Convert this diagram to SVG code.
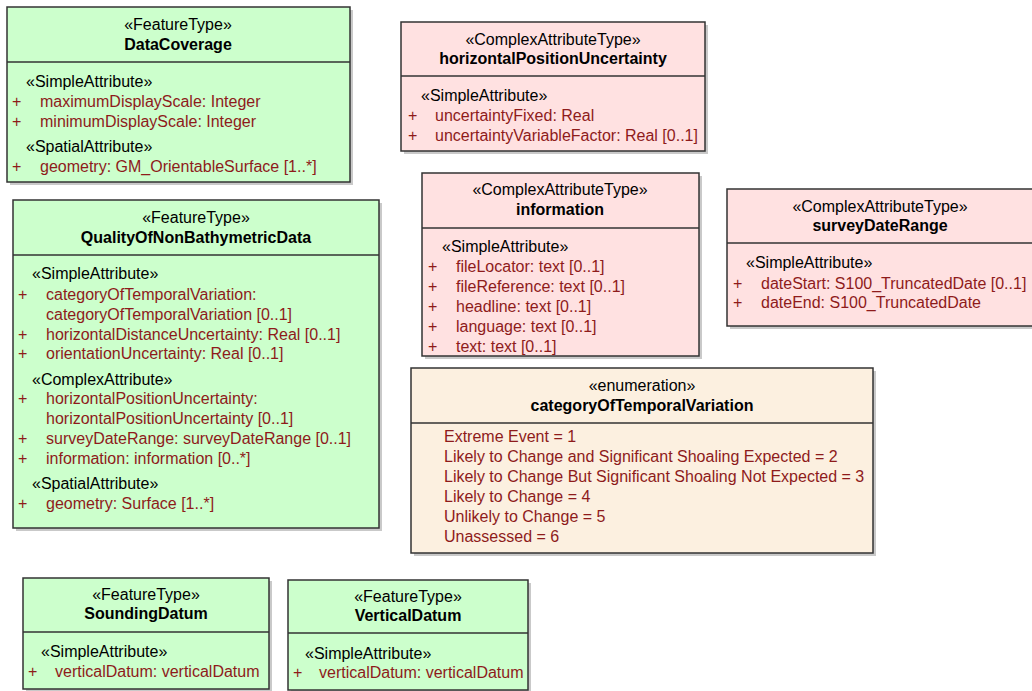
<svg xmlns="http://www.w3.org/2000/svg" width="1032" height="691" viewBox="0 0 1032 691">
<style>
text{font-family:"Liberation Sans",Arial,sans-serif;font-size:16px}
.sh{fill:#c9c9c9}
.g{fill:#ccffcc}
.p{fill:#ffe1e1}
.e{fill:#fcf0e0}
.fr{stroke:#333;stroke-width:1.5}
.dv{stroke:#333;stroke-width:1.5}
.st{fill:#000;text-anchor:middle}
.nm{fill:#000;text-anchor:middle;font-weight:bold}
.sa{fill:#000}
.at{fill:#8e1b1b}
</style>
<rect width="1032" height="691" fill="#fff"/>
<g id="connectors"/>
<g id="DataCoverage">
<rect class="sh" x="10" y="10" width="343" height="175"/>
<rect class="g fr" x="7" y="7" width="343" height="175"/>
<line class="dv" x1="7" y1="62" x2="350" y2="62"/>
<text class="st" x="178" y="30">«FeatureType»</text>
<text class="nm" x="178" y="50">DataCoverage</text>
<text class="sa" x="26" y="87">«SimpleAttribute»</text>
<text class="at" x="12" y="107">+</text><text class="at" x="40" y="107">maximumDisplayScale: Integer</text>
<text class="at" x="12" y="127">+</text><text class="at" x="40" y="127">minimumDisplayScale: Integer</text>
<text class="sa" x="26" y="152">«SpatialAttribute»</text>
<text class="at" x="12" y="172">+</text><text class="at" x="40" y="172">geometry: GM_OrientableSurface [1..*]</text>
</g>
<g id="horizontalPositionUncertainty">
<rect class="sh" x="404" y="25" width="304" height="129"/>
<rect class="p fr" x="401" y="22" width="304" height="129"/>
<line class="dv" x1="401" y1="76" x2="705" y2="76"/>
<text class="st" x="553" y="45">«ComplexAttributeType»</text>
<text class="nm" x="553" y="64">horizontalPositionUncertainty</text>
<text class="sa" x="421" y="101">«SimpleAttribute»</text>
<text class="at" x="408" y="121">+</text><text class="at" x="435" y="121">uncertaintyFixed: Real</text>
<text class="at" x="408" y="141">+</text><text class="at" x="435" y="141">uncertaintyVariableFactor: Real [0..1]</text>
</g>
<g id="QualityOfNonBathymetricData">
<rect class="sh" x="16" y="203" width="366" height="328"/>
<rect class="g fr" x="13" y="200" width="366" height="328"/>
<line class="dv" x1="13" y1="255" x2="379" y2="255"/>
<text class="st" x="196" y="223">«FeatureType»</text>
<text class="nm" x="196" y="243">QualityOfNonBathymetricData</text>
<text class="sa" x="32" y="279">«SimpleAttribute»</text>
<text class="at" x="18" y="300">+</text><text class="at" x="46" y="300">categoryOfTemporalVariation:</text>
<text class="at" x="46" y="320">categoryOfTemporalVariation [0..1]</text>
<text class="at" x="18" y="340">+</text><text class="at" x="46" y="340">horizontalDistanceUncertainty: Real [0..1]</text>
<text class="at" x="18" y="359">+</text><text class="at" x="46" y="359">orientationUncertainty: Real [0..1]</text>
<text class="sa" x="32" y="385">«ComplexAttribute»</text>
<text class="at" x="18" y="404">+</text><text class="at" x="46" y="404">horizontalPositionUncertainty:</text>
<text class="at" x="46" y="424">horizontalPositionUncertainty [0..1]</text>
<text class="at" x="18" y="444">+</text><text class="at" x="46" y="444">surveyDateRange: surveyDateRange [0..1]</text>
<text class="at" x="18" y="464">+</text><text class="at" x="46" y="464">information: information [0..*]</text>
<text class="sa" x="32" y="489">«SpatialAttribute»</text>
<text class="at" x="18" y="509">+</text><text class="at" x="46" y="509">geometry: Surface [1..*]</text>
</g>
<g id="information">
<rect class="sh" x="425" y="176" width="277" height="183"/>
<rect class="p fr" x="422" y="173" width="277" height="183"/>
<line class="dv" x1="422" y1="228" x2="699" y2="228"/>
<text class="st" x="560" y="195">«ComplexAttributeType»</text>
<text class="nm" x="560" y="215">information</text>
<text class="sa" x="442" y="252">«SimpleAttribute»</text>
<text class="at" x="428" y="272">+</text><text class="at" x="456" y="272">fileLocator: text [0..1]</text>
<text class="at" x="428" y="292">+</text><text class="at" x="456" y="292">fileReference: text [0..1]</text>
<text class="at" x="428" y="312">+</text><text class="at" x="456" y="312">headline: text [0..1]</text>
<text class="at" x="428" y="332">+</text><text class="at" x="456" y="332">language: text [0..1]</text>
<text class="at" x="428" y="352">+</text><text class="at" x="456" y="352">text: text [0..1]</text>
</g>
<g id="surveyDateRange">
<rect class="sh" x="730" y="192" width="310" height="137"/>
<rect class="p fr" x="727" y="189" width="310" height="137"/>
<line class="dv" x1="727" y1="243" x2="1037" y2="243"/>
<text class="st" x="880" y="212">«ComplexAttributeType»</text>
<text class="nm" x="880" y="231">surveyDateRange</text>
<text class="sa" x="746" y="268">«SimpleAttribute»</text>
<text class="at" x="733" y="289">+</text><text class="at" x="761" y="289">dateStart: S100_TruncatedDate [0..1]</text>
<text class="at" x="733" y="308">+</text><text class="at" x="761" y="308">dateEnd: S100_TruncatedDate</text>
</g>
<g id="categoryOfTemporalVariation">
<rect class="sh" x="414" y="371" width="462" height="185"/>
<rect class="e fr" x="411" y="368" width="462" height="185"/>
<line class="dv" x1="411" y1="423" x2="873" y2="423"/>
<text class="st" x="642" y="391">«enumeration»</text>
<text class="nm" x="642" y="411">categoryOfTemporalVariation</text>
<text class="at" x="444" y="442">Extreme Event = 1</text>
<text class="at" x="444" y="462">Likely to Change and Significant Shoaling Expected = 2</text>
<text class="at" x="444" y="482">Likely to Change But Significant Shoaling Not Expected = 3</text>
<text class="at" x="444" y="502">Likely to Change = 4</text>
<text class="at" x="444" y="522">Unlikely to Change = 5</text>
<text class="at" x="444" y="542">Unassessed = 6</text>
</g>
<g id="SoundingDatum">
<rect class="sh" x="26" y="581" width="246" height="111"/>
<rect class="g fr" x="23" y="578" width="246" height="111"/>
<line class="dv" x1="23" y1="632" x2="269" y2="632"/>
<text class="st" x="146" y="600">«FeatureType»</text>
<text class="nm" x="146" y="619">SoundingDatum</text>
<text class="sa" x="41" y="657">«SimpleAttribute»</text>
<text class="at" x="28" y="677">+</text><text class="at" x="55" y="677">verticalDatum: verticalDatum</text>
</g>
<g id="VerticalDatum">
<rect class="sh" x="291" y="583" width="240" height="110"/>
<rect class="g fr" x="288" y="580" width="240" height="110"/>
<line class="dv" x1="288" y1="633" x2="528" y2="633"/>
<text class="st" x="408" y="602">«FeatureType»</text>
<text class="nm" x="408" y="621">VerticalDatum</text>
<text class="sa" x="305" y="659">«SimpleAttribute»</text>
<text class="at" x="293" y="678">+</text><text class="at" x="319" y="678">verticalDatum: verticalDatum</text>
</g>
</svg>
